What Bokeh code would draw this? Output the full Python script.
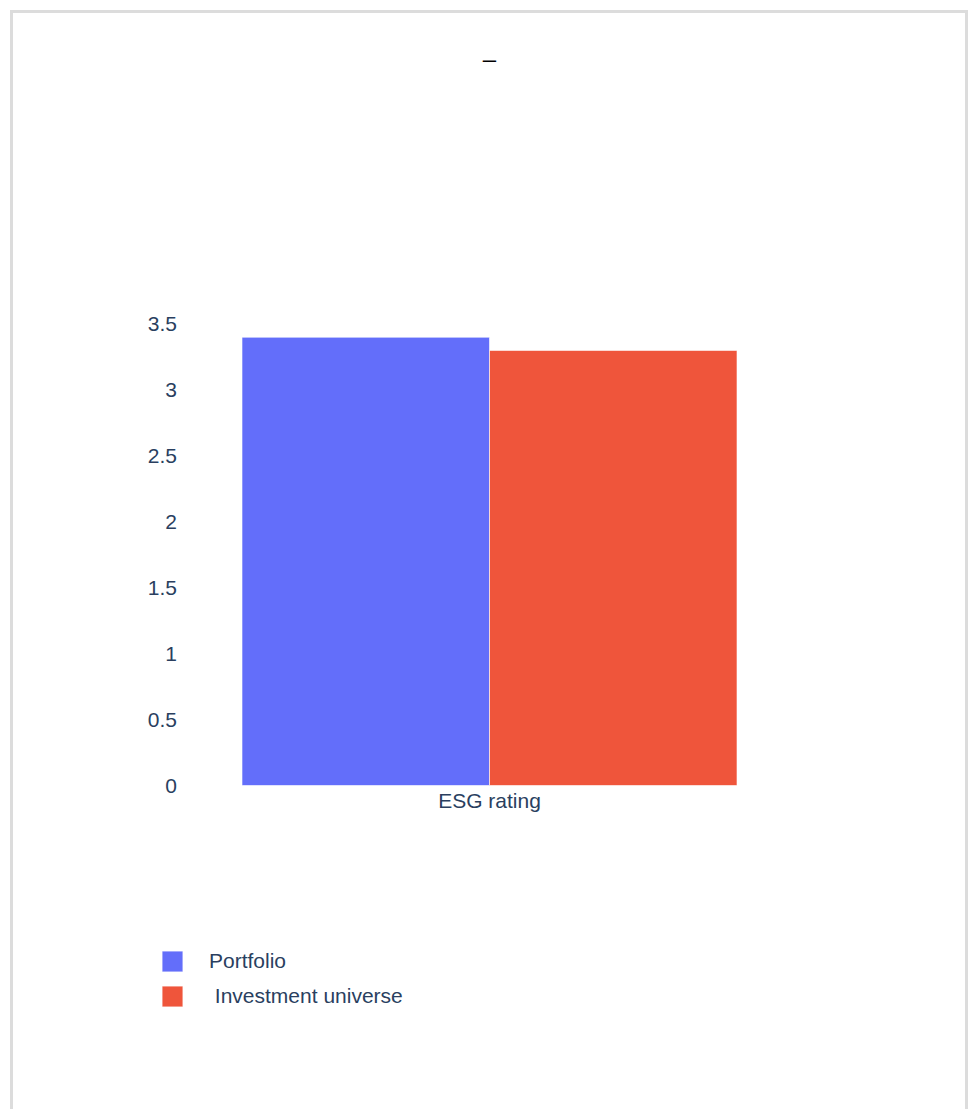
from bokeh.plotting import figure
from bokeh.models import FactorRange, Range1d, FixedTicker, Legend, LegendItem, Label
from bokeh.transform import dodge
from bokeh.embed import file_html
from bokeh.resources import INLINE

# Data
categories = ["ESG rating"]
series_names = ["Portfolio", "\u00a0Investment universe"]
portfolio = [3.4]
universe = [3.3]
y_ticks = [0, 0.5, 1, 1.5, 2, 2.5, 3, 3.5]
y_tick_labels = ["0", "0.5", "1", "1.5", "2", "2.5", "3", "3.5"]
chart_title = "\u2013"

FONT = "Liberation Sans"
TEXT_COLOR = "#2a3f5f"
COLORS = ["#636efa", "#ef553b"]

# Layout: the plotting frame fills the whole card; the bar area sits inside it.
CARD_W, CARD_H = 952, 1096
BAR_AREA_W = 495                # pixel width of the category band
PX_PER_UNIT = 131.84            # vertical scale of the value axis
ZERO_FROM_TOP = 772             # pixel distance of value 0 from the card top

side_pad = (CARD_W - BAR_AREA_W) / 2 / BAR_AREA_W
y_top = ZERO_FROM_TOP / PX_PER_UNIT
y_bottom = -(CARD_H - ZERO_FROM_TOP) / PX_PER_UNIT

p = figure(
    x_range=FactorRange(*categories, range_padding=side_pad, range_padding_units="absolute"),
    y_range=Range1d(y_bottom, y_top),
    frame_width=CARD_W,
    frame_height=CARD_H,
    min_border=0,
    output_backend="svg",
    toolbar_location=None,
)
p.styles = {"border": "3px solid #dcdcdc", "margin-left": "10px", "margin-top": "10px"}

p.background_fill_color = "white"
p.border_fill_color = "white"
p.outline_line_color = None
p.xgrid.visible = False
p.ygrid.visible = False

src = dict(cat=categories, portfolio=portfolio, universe=universe)
r1 = p.vbar(x=dodge("cat", -0.25, range=p.x_range), top="portfolio", width=0.5,
            source=src, fill_color=COLORS[0], line_color="white", line_width=0.6)
r2 = p.vbar(x=dodge("cat", 0.25, range=p.x_range), top="universe", width=0.5,
            source=src, fill_color=COLORS[1], line_color="white", line_width=0.6)

# Axes pinned to the edges of the bar area
for ax in (p.xaxis, p.yaxis):
    ax.axis_line_color = None
    ax.major_tick_line_color = None
    ax.minor_tick_line_color = None
    ax.major_label_text_font = FONT
    ax.major_label_text_font_size = "21px"
    ax.major_label_text_color = TEXT_COLOR

p.yaxis.fixed_location = 0.0
p.yaxis.ticker = FixedTicker(ticks=y_ticks)
p.yaxis.major_label_overrides = {t: l for t, l in zip(y_ticks, y_tick_labels)}
p.yaxis.major_label_standoff = 59

p.xaxis.fixed_location = 0.0
p.xaxis.major_label_standoff = -3

# Title
p.add_layout(Label(
    x=CARD_W / 2, y=CARD_H - 45, x_units="screen", y_units="screen",
    text=chart_title, text_align="center", text_baseline="middle",
    text_font=FONT, text_font_size="24px", text_color="#000000",
))

# Legend below the chart (bar swatches are drawn at 80% of the glyph box)
legend = Legend(
    items=[LegendItem(label=series_names[0], renderers=[r1]),
           LegendItem(label=series_names[1], renderers=[r2])],
    location=(146, 100),
    orientation="vertical",
    glyph_width=26,
    glyph_height=26,
    label_standoff=24,
    spacing=9,
    padding=0,
    margin=0,
    border_line_color=None,
    background_fill_alpha=0,
    label_text_font=FONT,
    label_text_font_size="21px",
    label_text_color=TEXT_COLOR,
)
p.add_layout(legend, "center")

open("out.html", "w").write(file_html(p, INLINE))
